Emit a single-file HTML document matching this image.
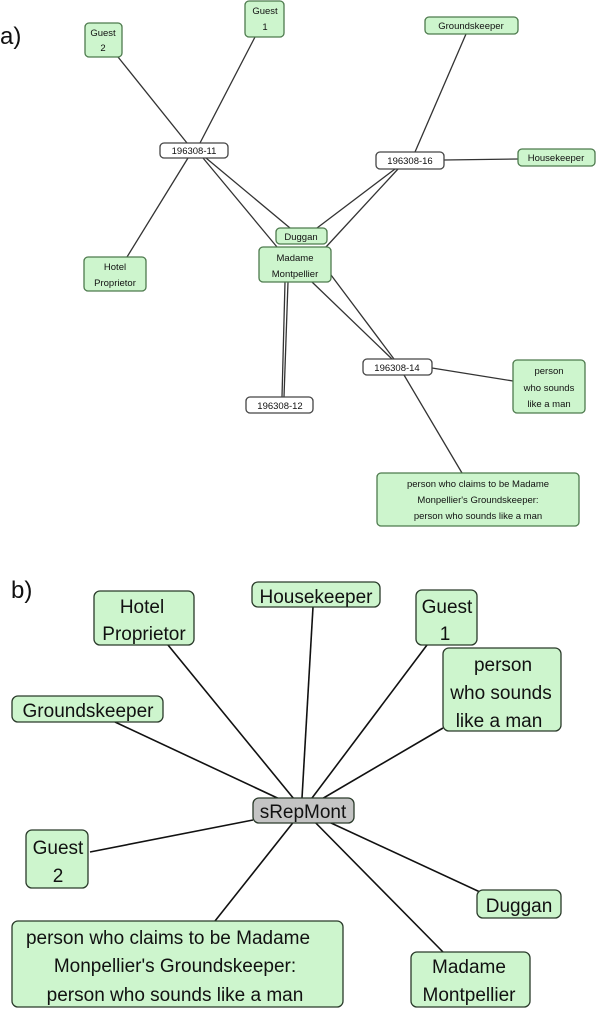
<!DOCTYPE html>
<html><head><meta charset="utf-8"><style>
body{margin:0;background:#fff;}
svg{display:block}
text{font-family:"Liberation Sans",sans-serif;fill:#111}
.a rect{fill:#cdf5cd;stroke:#4d7a4d;stroke-width:1.3}
.a rect.w{fill:#fff;stroke:#444}
.a text{font-size:9.5px;text-anchor:middle}
.b rect{fill:#cdf5cd;stroke:#2a3a2a;stroke-width:1.3}
.b rect.g{fill:#c4c4c4}
.b text{font-size:19px;text-anchor:middle}
line{stroke:#333;stroke-width:1.3}
.b line{stroke:#111;stroke-width:1.6}
</style></head><body>
<svg width="598" height="1014" viewBox="0 0 598 1014">
<text x="0" y="44" style="font-size:24px">a)</text>
<g class="a">
<line x1="118" y1="57" x2="187" y2="143"/>
<line x1="255" y1="37" x2="200" y2="143"/>
<line x1="127" y1="257" x2="188" y2="158"/>
<line x1="203" y1="158" x2="277" y2="247"/>
<line x1="206" y1="158" x2="290" y2="228"/>
<line x1="466" y1="34" x2="415" y2="152"/>
<line x1="444" y1="160" x2="518" y2="159"/>
<line x1="395" y1="169" x2="317" y2="228"/>
<line x1="398" y1="169" x2="326" y2="247"/>
<line x1="285" y1="282" x2="282" y2="397"/>
<line x1="288" y1="282" x2="284" y2="397"/>
<line x1="312" y1="282" x2="392" y2="359"/>
<line x1="331" y1="275" x2="394" y2="359"/>
<line x1="432" y1="368" x2="513" y2="381"/>
<line x1="404" y1="375" x2="462" y2="473"/>
<rect x="85" y="23" width="37" height="34" rx="4"/><text x="103" y="36">Guest</text><text x="103" y="51">2</text>
<rect x="245" y="1" width="39" height="36" rx="4"/><text x="265" y="14">Guest</text><text x="265" y="30">1</text>
<rect x="425" y="17" width="93" height="17" rx="4"/><text x="471" y="29">Groundskeeper</text>
<rect class="w" x="160" y="143" width="68" height="15" rx="4"/><text x="194" y="154">196308-11</text>
<rect class="w" x="376" y="152" width="68" height="17" rx="4"/><text x="410" y="164">196308-16</text>
<rect x="518" y="149" width="77" height="17" rx="4"/><text x="556" y="161">Housekeeper</text>
<rect x="276" y="228" width="51" height="16" rx="4"/><text x="301" y="240">Duggan</text>
<rect x="259" y="247" width="72" height="35" rx="4"/><text x="295" y="261">Madame</text><text x="295" y="277">Montpellier</text>
<rect x="84" y="257" width="62" height="34" rx="4"/><text x="115" y="270">Hotel</text><text x="115" y="286">Proprietor</text>
<rect class="w" x="363" y="359" width="69" height="16" rx="4"/><text x="397" y="371">196308-14</text>
<rect x="513" y="360" width="72" height="53" rx="4"/><text x="549" y="374">person</text><text x="549" y="391">who sounds</text><text x="549" y="407">like a man</text>
<rect class="w" x="246" y="397" width="67" height="16" rx="4"/><text x="280" y="409">196308-12</text>
<rect x="377" y="473" width="202" height="53" rx="4"/><text x="478" y="487">person who claims to be Madame</text><text x="478" y="503">Monpellier's Groundskeeper:</text><text x="478" y="519">person who sounds like a man</text>
</g>
<text x="11" y="598" style="font-size:24px">b)</text>
<g class="b">
<line x1="303" y1="810" x2="168" y2="645"/>
<line x1="302" y1="798" x2="313" y2="607"/>
<line x1="303" y1="810" x2="427" y2="645"/>
<line x1="303" y1="810" x2="443" y2="728"/>
<line x1="303" y1="810" x2="115" y2="722"/>
<line x1="253" y1="820" x2="90" y2="852"/>
<line x1="303" y1="810" x2="480" y2="892"/>
<line x1="303" y1="810" x2="443" y2="952"/>
<line x1="303" y1="810" x2="215" y2="921"/>
<rect x="94" y="591" width="100" height="54" rx="6"/><text x="142" y="613">Hotel</text><text x="144" y="640">Proprietor</text>
<rect x="252" y="582" width="128" height="25" rx="6"/><text x="316" y="603">Housekeeper</text>
<rect x="416" y="590" width="61" height="55" rx="6"/><text x="447" y="613">Guest</text><text x="445" y="640">1</text>
<rect x="443" y="648" width="118" height="83" rx="6"/><text x="503" y="671">person</text><text x="501" y="699">who sounds</text><text x="499" y="727">like a man</text>
<rect x="12" y="696" width="151" height="26" rx="6"/><text x="88" y="717">Groundskeeper</text>
<rect class="g" x="253" y="798" width="101" height="25" rx="6"/><text x="303" y="818">sRepMont</text>
<rect x="26" y="830" width="62" height="58" rx="6"/><text x="58" y="854">Guest</text><text x="58" y="882">2</text>
<rect x="477" y="890" width="84" height="28" rx="6"/><text x="519" y="912">Duggan</text>
<rect x="12" y="921" width="331" height="86" rx="6"/><text x="168" y="944">person who claims to be Madame</text><text x="175" y="972">Monpellier's Groundskeeper:</text><text x="175" y="1001">person who sounds like a man</text>
<rect x="411" y="952" width="119" height="55" rx="6"/><text x="469" y="973">Madame</text><text x="469" y="1001">Montpellier</text>
</g>
</svg>
</body></html>
